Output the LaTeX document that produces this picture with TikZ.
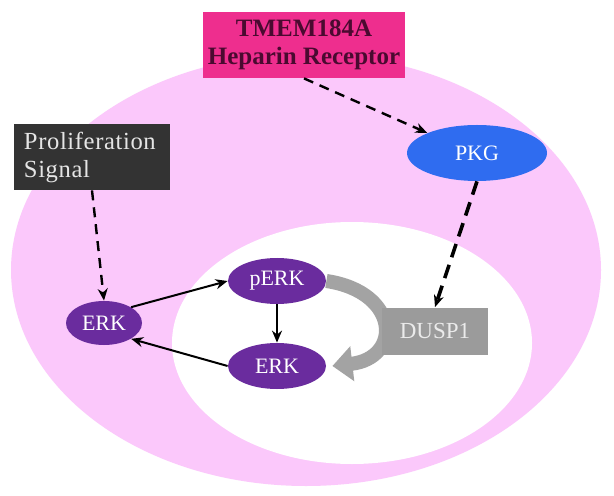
\documentclass[tikz,border=0pt]{standalone}
\usepackage{fontspec}
\setmainfont{Liberation Serif}
\newfontfamily\spacedfont[LetterSpace=2.5]{Liberation Serif}
\usetikzlibrary{arrows.meta,shapes.geometric}
\definecolor{cellpink}{HTML}{FBC8FB}
\definecolor{hotpink}{HTML}{EE2E8E}
\definecolor{maroon}{HTML}{4A0A30}
\definecolor{darkbox}{HTML}{333333}
\definecolor{pkgblue}{HTML}{2F6CF0}
\definecolor{erkpurple}{HTML}{6A2C9E}
\definecolor{duspgray}{HTML}{9B9B9B}
\definecolor{flowgray}{HTML}{A3A3A3}
\begin{document}
\begin{tikzpicture}[x=0.5pt,y=-0.5pt,
    kinase/.style={ellipse,fill=erkpurple,text=white,minimum width=49pt,minimum height=23pt,inner sep=0pt,font=\fontsize{11}{12}\selectfont},
    link/.style={-{Stealth[length=6pt,width=5pt]},line width=1pt},
    dashlink/.style={-{Stealth[length=6pt,width=5pt]},line width=1.2pt,dash pattern=on 5pt off 3.5pt}]
  \useasboundingbox (0,0) rectangle (614,496);
  \fill[white] (0,0) rectangle (614,496);
  % cell and nucleus
  \fill[cellpink] (306,270) ellipse [x radius=295,y radius=216];
  \fill[white] (352,343) ellipse [x radius=180,y radius=121];
  % boxes
  \node[fill=hotpink,text=maroon,font=\bfseries\fontsize{12.5}{14}\selectfont,align=center,minimum width=101pt,minimum height=33pt,inner sep=0pt] (tmem) at (304,45) {TMEM184A\\Heparin Receptor};
  \node[fill=darkbox,text=white!90!black,font=\spacedfont\fontsize{12.3}{14}\selectfont,align=left,minimum width=78pt,minimum height=33pt,inner sep=0pt,text width=68pt] (prolif) at (92,157) {Proliferation\\Signal};
  \node[ellipse,fill=pkgblue,text=white,minimum width=70pt,minimum height=28pt,inner sep=0pt,font=\fontsize{11}{12}\selectfont] (pkg) at (477,153) {PKG};
  % kinases
  \node[kinase] (perk) at (277,281) {pERK};
  \node[kinase] (erkin) at (277,366) {ERK};
  \node[kinase,minimum width=38pt,minimum height=22pt] (erkout) at (104,323) {ERK};
  % dephosphorylation
  \draw[flowgray,line width=7pt,-{Triangle[length=10pt,width=17pt]}] (perk.east) .. controls (400,292) and (402,358) .. ([xshift=3pt]erkin.east);
  \node[fill=duspgray,text=white!92!black,minimum width=53pt,minimum height=23.5pt,inner sep=0pt,font=\fontsize{11.5}{12}\selectfont] (dusp) at (435,331) {DUSP1};
  % connectors
  \draw[link] (erkout.north east) -- (perk.west);
  \draw[link] (erkin.west) -- (erkout.south east);
  \draw[link] (perk.south) -- (erkin.north);
  \draw[dashlink] (tmem.south) -- (pkg.north west);
  \draw[dashlink] (prolif.south) -- (erkout.north);
  \draw[dashlink,line width=1.8pt,dash pattern=on 7pt off 4pt] (pkg.south) -- (dusp.north);
\end{tikzpicture}
\end{document}
